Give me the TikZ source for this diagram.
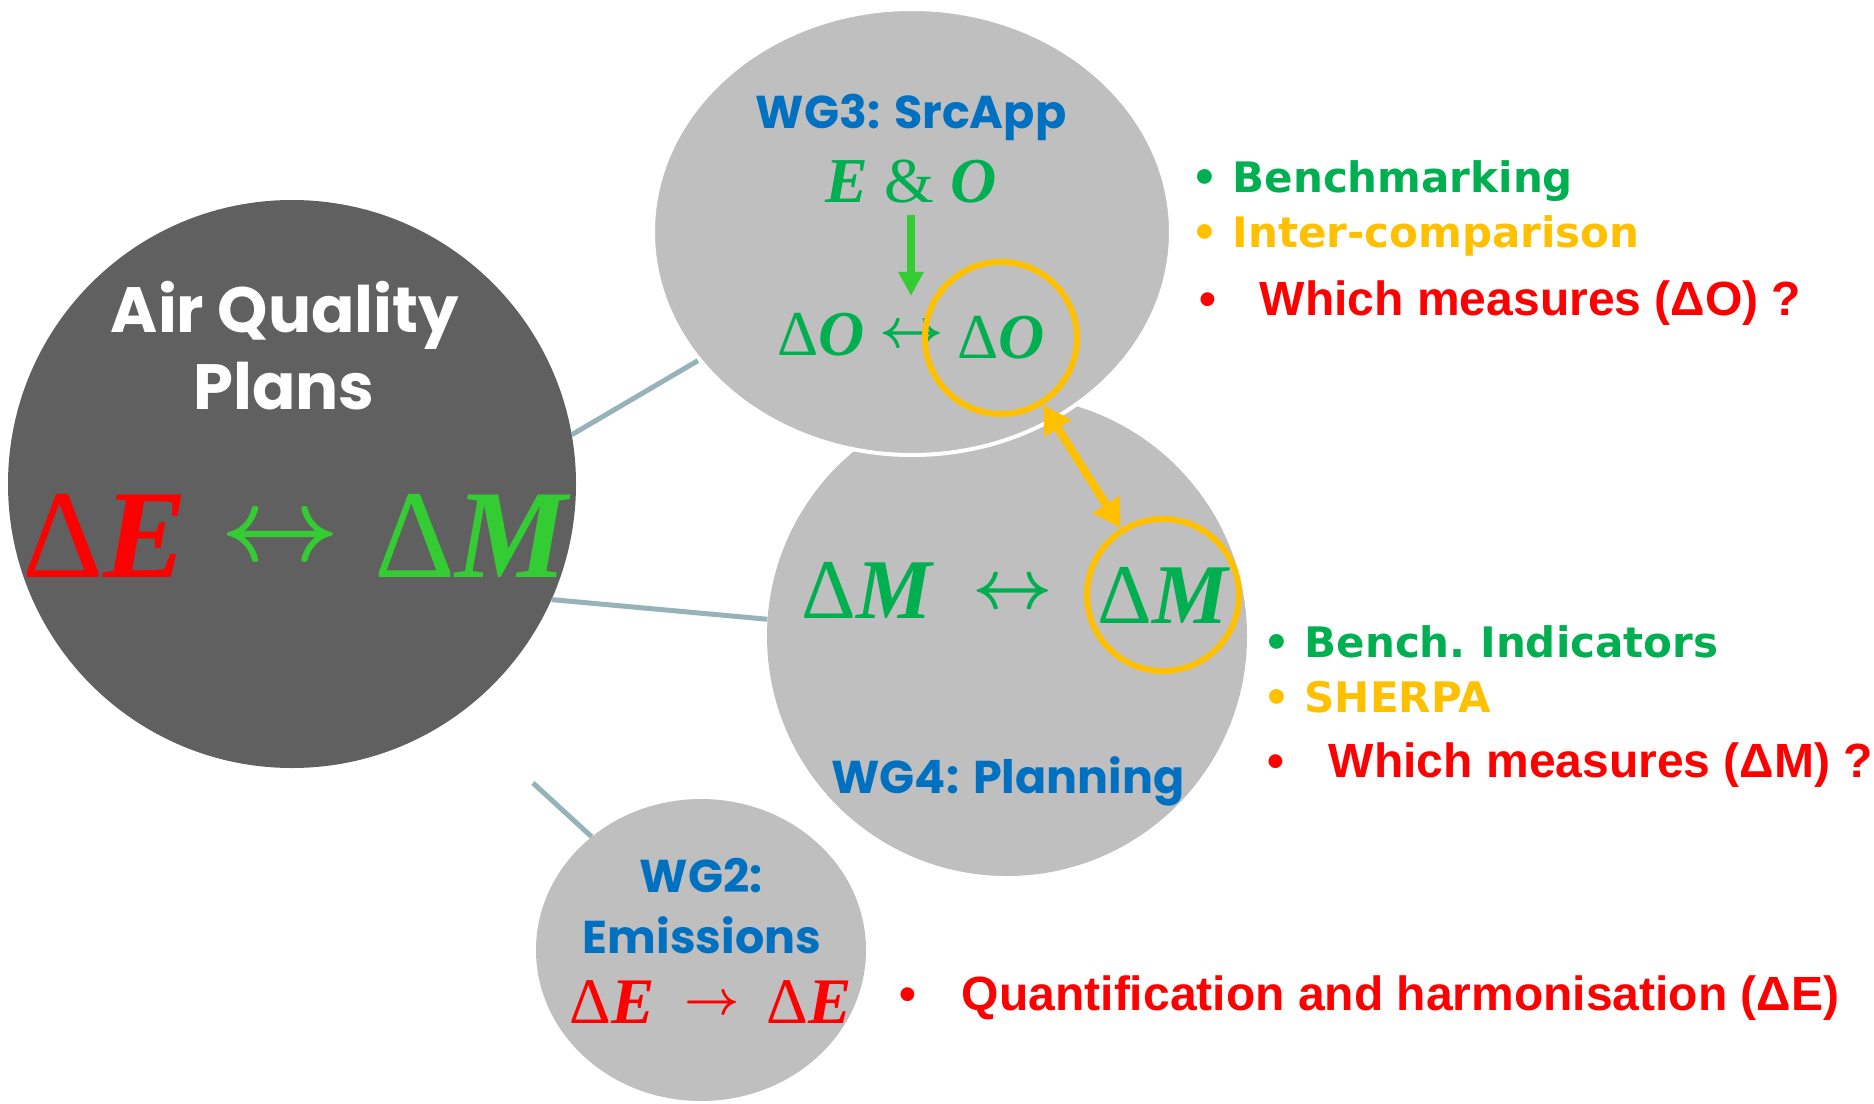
\RequirePackage{fix-cm}
\documentclass[tikz,border=0pt]{standalone}
\usepackage{fontspec}
\usepackage{amsmath}
\usetikzlibrary{arrows.meta,shapes.geometric}

\newfontfamily\comicfont{Poppins}
\newfontfamily\verdfont{DejaVu Sans}
\newfontfamily\arialfont{Liberation Sans}
\newfontfamily\deltafont{Liberation Serif}

\definecolor{aqgray}{HTML}{606060}
\definecolor{wggray}{HTML}{BFBFBF}
\definecolor{wgblue}{HTML}{0070C0}
\definecolor{okgreen}{HTML}{00B050}
\definecolor{limegreen}{HTML}{33CC33}
\definecolor{gold}{HTML}{FFC000}
\definecolor{linkgray}{HTML}{95B3B8}

% Delta followed by a bold italic letter
\newcommand{\dvar}[1]{{\deltafont Δ\bfseries\itshape #1}}
\newcommand{\pxsize}[1]{\fontsize{#1}{#1}\selectfont}

\begin{document}
\begin{tikzpicture}[x=1pt, y=-1pt, >=Stealth,
    every node/.style={inner sep=0pt},
    wgcircle/.style={circle, fill=wggray},
    wglabel/.style={anchor=base, text=wgblue, font=\comicfont\bfseries\pxsize{46}},
    link/.style={draw=linkgray, line width=5pt},
    ring/.style={circle, draw=gold, line width=6pt, minimum size=152pt},
    greenitem/.style={anchor=base west, text=okgreen, font=\verdfont\bfseries\pxsize{42}},
    golditem/.style={anchor=base west, text=gold, font=\verdfont\bfseries\pxsize{42}},
    reditem/.style={anchor=base west, text=red, font=\arialfont\bfseries\pxsize{48}}]

  \useasboundingbox (0,0) rectangle (1874,1103);

  % Air quality plans circle
  \node[circle, fill=aqgray, minimum size=568pt] (aqp) at (292,484) {};

  % Working group circles (WG3 sits on top of WG4)
  \node[wgcircle, minimum size=480pt] (wg4) at (1007,636) {};
  \node[ellipse, fill=wggray, draw=white, line width=4pt,
        minimum width=518pt, minimum height=446pt] (wg3) at (912,232) {};
  \node[ellipse, fill=wggray, minimum width=330pt, minimum height=302pt] (wg2) at (701,950) {};

  % Links to the plans circle
  \coordinate (l3) at (533,783);
  \draw[link] (aqp.10) -- (wg3.211);
  \draw[link] (aqp.-24) -- (wg4.176);
  \draw[link] (l3) -- (wg2.134.5);

  % Air quality plans
  \node[anchor=base, text=white, font=\comicfont\bfseries\pxsize{64}] (aqt) at (285,332) {Air Quality};
  \node[anchor=base, text=white, font=\comicfont\bfseries\pxsize{64}] (aqp2) at (284,409) {Plans};
  \node[anchor=base, text=red, font=\pxsize{126}] (de) at (105,577) {\dvar{E}};
  \node[text=limegreen, font=\pxsize{104}] (dearr) at (280,540) {$\boldsymbol{\leftrightarrow}$};
  \node[anchor=base, text=limegreen, font=\pxsize{126}] (dm) at (471,577) {\dvar{M}};

  % WG3
  \node[wglabel] (wg3t) at (911,128) {WG3:\hspace{14pt}SrcApp};
  \node[anchor=base, text=okgreen, font=\deltafont\pxsize{64}] (eo) at (911,202)
    {\textbf{\textit{E}} \& \textbf{\textit{O}}};
  \node[anchor=base, text=okgreen, font=\pxsize{64}] (o1) at (821,355) {\dvar{O}};
  \node[text=okgreen, font=\pxsize{56}] (oarr) at (912,337) {$\boldsymbol{\leftrightarrow}$};
  \node[ring, text=okgreen, font=\pxsize{64}] (o2) at (1001,338) {\dvar{O}};
  \draw[limegreen, line width=8pt, -{Triangle[length=24pt,width=24pt]},
        shorten <=12pt, shorten >=30pt] (eo.south) -- (eo.south |- oarr.north);

  % WG4
  \node[wglabel] (wg4t) at (1008,793) {WG4:\hspace{14pt}Planning};
  \node[anchor=base, text=okgreen, font=\pxsize{85}] (m1) at (867,618) {\dvar{M}};
  \node[text=okgreen, font=\pxsize{70}] (marr) at (1013,595) {$\boldsymbol{\leftrightarrow}$};
  \node[ring, text=okgreen, font=\pxsize{85}] (m2) at (1163,595) {\dvar{M}};

  % Benchmark link between the two rings
  \draw[gold, line width=8pt, {Triangle[length=28pt,width=30pt]}-{Triangle[length=28pt,width=30pt]}]
    (o2) -- (m2);

  % WG2
  \node[wglabel] (wg2t) at (701,892) {WG2:};
  \node[wglabel] (wg2e) at (702,953) {Emissions};
  \node[anchor=base, text=red, font=\pxsize{65}] (e1) at (612,1023) {\dvar{E}};
  \node[text=red, font=\pxsize{48}] (earr) at (712,1005) {$\boldsymbol{\rightarrow}$};
  \node[anchor=base, text=red, font=\pxsize{65}] (e2) at (809,1023) {\dvar{E}};

  % Topics
  \node[greenitem] (bench) at (1191,192) {• Benchmarking};
  \node[golditem] (inter) at (1191,247) {• Inter-comparison};
  \node[reditem] (whicho) at (1199,315) {•\hspace{44pt}Which measures (ΔO) ?};
  \node[greenitem] (indic) at (1263,657) {• Bench.\ Indicators};
  \node[golditem] (sherpa) at (1263,712) {• SHERPA};
  \node[reditem] (whichm) at (1267,777) {•\hspace{45pt}Which measures (ΔM) ?};
  \node[reditem] (quant) at (899,1010) {•\hspace{46pt}Quantification and harmonisation (ΔE)};

\end{tikzpicture}
\end{document}
